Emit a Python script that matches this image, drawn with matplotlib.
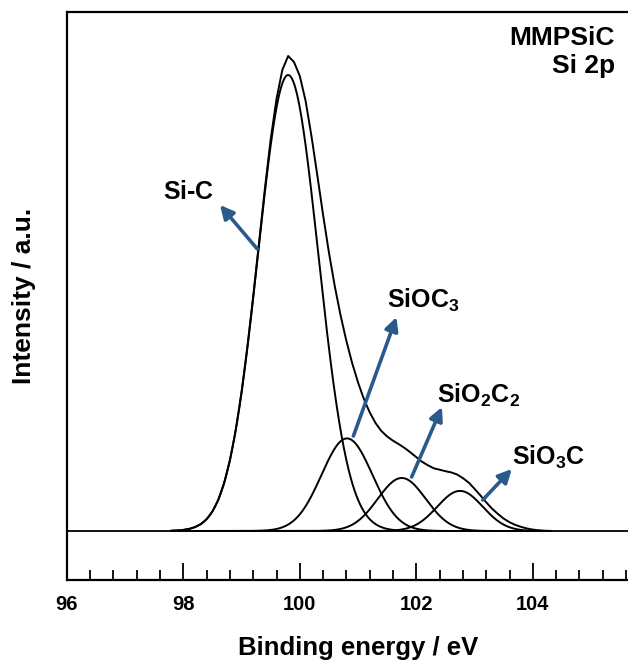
import numpy as np
import matplotlib
matplotlib.use('Agg')
import matplotlib.pyplot as plt

# ---- data (intensity in arbitrary counts) ----
components = ['Si-C', 'SiOC3', 'SiO2C2', 'SiO3C']
centers = [99.80, 100.81, 101.75, 102.75]      # binding energy, eV
heights = [456.0, 92.6, 53.0, 40.1]            # intensity, a.u.
fwhm = [1.22, 1.03, 0.97, 0.92]                # eV
fit_range = (97.8, 104.3)

env_energy = [97.8, 97.9, 98.0, 98.1, 98.2, 98.3, 98.4, 98.5, 98.6, 98.7,
              98.8, 98.9, 99.0, 99.1, 99.2, 99.3, 99.4, 99.5, 99.6, 99.7,
              99.8, 99.9, 100.0, 100.1, 100.2, 100.3, 100.4, 100.5, 100.6,
              100.7, 100.8, 100.9, 101.0, 101.1, 101.2, 101.3, 101.4, 101.5,
              101.6, 101.7, 101.8, 101.9, 102.0, 102.1, 102.2, 102.3, 102.4,
              102.5, 102.6, 102.7, 102.8, 102.9, 103.0, 103.1, 103.2, 103.3,
              103.4, 103.5, 103.6, 103.7, 103.8, 103.9, 104.0, 104.1, 104.2,
              104.3]
env_intensity = [0.3, 0.6, 1.1, 2.1, 3.9, 6.9, 11.8, 19.6, 31.1, 47.8,
                 70.7, 100.8, 138.8, 184.0, 234.6, 288.4, 342.0, 391.6, 432.0,
                 461.0, 475.0, 469.0, 455.0, 430.0, 395.0, 356.0, 316.0, 278.5,
                 245.0, 215.6, 190.0, 167.7, 148.5, 132.0, 118.7, 108.0, 100.0,
                 94.5, 90.3, 86.8, 83.0, 78.6, 73.8, 69.2, 65.7, 62.7, 61.3,
                 59.8, 58.6, 56.5, 52.9, 48.4, 42.2, 35.6, 28.7, 22.4, 17.1,
                 12.4, 8.8, 6.1, 4.1, 2.5, 1.4, 0.7, 0.3, 0.1]

x_major_ticks = [96, 98, 100, 102, 104]
x_minor_step = 0.4

# annotation labels (mathtext) and positions in data coords
label_texts = [r'$\mathbf{Si\text{-}C}$', r'$\mathbf{SiOC}_{3}$',
               r'$\mathbf{SiO}_{2}\mathbf{C}_{2}$', r'$\mathbf{SiO}_{3}\mathbf{C}$']
label_pos = [(98.10, 339), (101.49, 231), (102.35, 136), (103.64, 74)]
label_ha = ['center', 'left', 'left', 'left']
arrow_tail = [(99.27, 282), (100.92, 95), (101.92, 54), (103.14, 31)]
arrow_tip = [(98.63, 326), (101.66, 214), (102.44, 124), (103.64, 62)]

# ---- style ----
plt.rcParams['font.family'] = ['Liberation Sans', 'DejaVu Sans']
plt.rcParams['font.weight'] = 'bold'
plt.rcParams['mathtext.fontset'] = 'custom'
plt.rcParams['mathtext.rm'] = 'Liberation Sans'
plt.rcParams['mathtext.bf'] = 'Liberation Sans:bold'
plt.rcParams['mathtext.it'] = 'Liberation Sans:italic'

arrow_color = '#2a5a8c'

fig = plt.figure(figsize=(6.28, 6.66), dpi=100)
W, H = 628, 666
left_px, top_px, bottom_px = 66.8, 12, 580
px_per_ev = 58.25
xlim = (96, 106)
right_px = left_px + (xlim[1] - xlim[0]) * px_per_ev
ax = fig.add_axes([left_px / W, 1 - bottom_px / H,
                   (right_px - left_px) / W, (bottom_px - top_px) / H])

x = np.linspace(fit_range[0], fit_range[1], 800)
for c, h, w in zip(centers, heights, fwhm):
    sigma = w / (2 * np.sqrt(2 * np.log(2)))
    y = h * np.exp(-0.5 * ((x - c) / sigma) ** 2)
    ax.plot(x, y, color='black', lw=1.4, solid_joinstyle='round')
ax.plot(env_energy, env_intensity, color='black', lw=1.4,
        solid_joinstyle='round')

ax.axhline(0, color='black', lw=1.3)

ax.set_xlim(*xlim)
ax.set_ylim(-49, 519)

ax.set_xticks(x_major_ticks)
ax.set_xticklabels([str(t) for t in x_major_ticks])
ax.set_xticks(np.arange(xlim[0], xlim[1] + 1e-6, x_minor_step), minor=True)
ax.tick_params(axis='x', which='major', direction='in', length=12, width=1.3,
               labelsize=14.5, pad=11)
ax.tick_params(axis='x', which='minor', direction='in', length=7.5, width=1.3)
ax.set_yticks([])
for lbl in ax.get_xticklabels():
    lbl.set_fontweight('bold')
for s in ax.spines.values():
    s.set_linewidth(1.6)
ax.spines['right'].set_visible(False)

ax.set_xlabel('Binding energy / eV', fontsize=18.5, fontweight='bold', labelpad=16)
ax.set_ylabel('Intensity / a.u.', fontsize=19, fontweight='bold', labelpad=22)

for t, p, ha in zip(label_texts, label_pos, label_ha):
    ax.text(p[0], p[1], t, fontsize=18, ha=ha, va='center')
for tail, tip in zip(arrow_tail, arrow_tip):
    ax.annotate('', xy=tip, xytext=tail,
                arrowprops=dict(arrowstyle='-|>', color=arrow_color, lw=2.6,
                                mutation_scale=20, shrinkA=0, shrinkB=0))

fig.text(615 / W, 1 - 38 / H, 'MMPSiC', fontsize=19, fontweight='bold',
         ha='right', va='center')
fig.text(615 / W, 1 - 66 / H, 'Si 2p', fontsize=19, fontweight='bold',
         ha='right', va='center')

fig.savefig('out.png', dpi=100)
